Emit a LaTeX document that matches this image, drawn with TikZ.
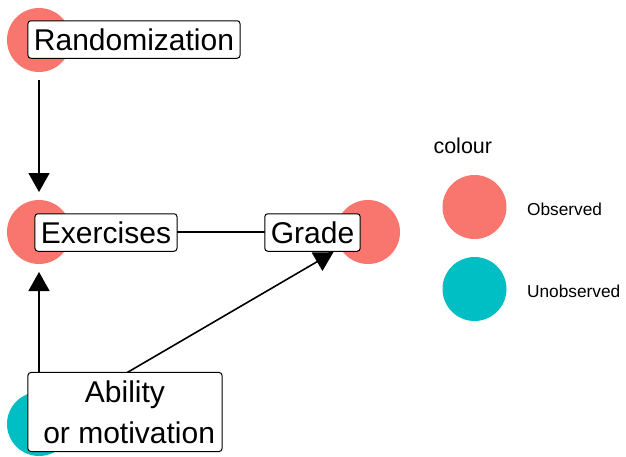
\documentclass[tikz,border=0pt]{standalone}
\usepackage{fontspec}
\setmainfont{Liberation Sans}
\usetikzlibrary{arrows.meta,positioning}
\definecolor{observed}{HTML}{F8766D}
\definecolor{unobserved}{HTML}{00BFC4}
\tikzset{
  dot/.style={circle,minimum size=64pt,inner sep=0pt,outer sep=0pt},
  varlabel/.style={draw,fill=white,rounded corners=3pt,line width=1pt,inner xsep=6pt,inner ysep=8pt,
    font=\fontsize{30}{41}\selectfont,text height=21.5pt,text depth=0pt},
  dagedge/.style={line width=1.6pt,shorten >=8pt,shorten <=8pt},
  keytext/.style={anchor=base west,font=\fontsize{17.3}{20}\selectfont}
}
\begin{document}
\begin{tikzpicture}[->,>={Triangle[length=19pt,width=21pt]},x=1pt,y=-1pt,node distance=192pt]
            \useasboundingbox (0,0) rectangle (626,456);

            \node[dot,fill=observed] (c_rand) at (39,40) {};
            \node[dot,fill=observed] (c_ex) at (39,232) {};
            \node[dot,fill=observed] (c_grade) at (368,232) {};
            \node[dot,fill=unobserved] (c_ability) at (39,424) {};

            \path (c_rand) edge[dagedge] (c_ex);
            \path (c_ability) edge[dagedge] (c_ex);
            \path (c_ability) edge[dagedge] (c_grade);
            \path (c_ex) edge[dagedge] (c_grade);

            \node[varlabel] (l_rand) at (134,39.5) {Randomization};
            \node[varlabel] (l_ex) at (106,232.5) {Exercises};
            \node[varlabel] (l_grade) at (312.5,232.5) {Grade};
            \node[varlabel,text height=,text depth=,align=center,inner xsep=7pt] (l_ability) at (125,412) {Ability\\~or motivation};

            \node[anchor=base west,font=\fontsize{21.5}{24}\selectfont] (key_title) at (430,153) {colour};
            \node[dot,fill=observed] (key_obs) at (474.5,207) {};
            \node[dot,fill=unobserved] (key_unobs) at (474.5,289) {};
            \node[keytext] (key_obs_text) at (523.5,215) {Observed};
            \node[keytext] (key_unobs_text) at (523.5,297) {Unobserved};
\end{tikzpicture}
\end{document}
